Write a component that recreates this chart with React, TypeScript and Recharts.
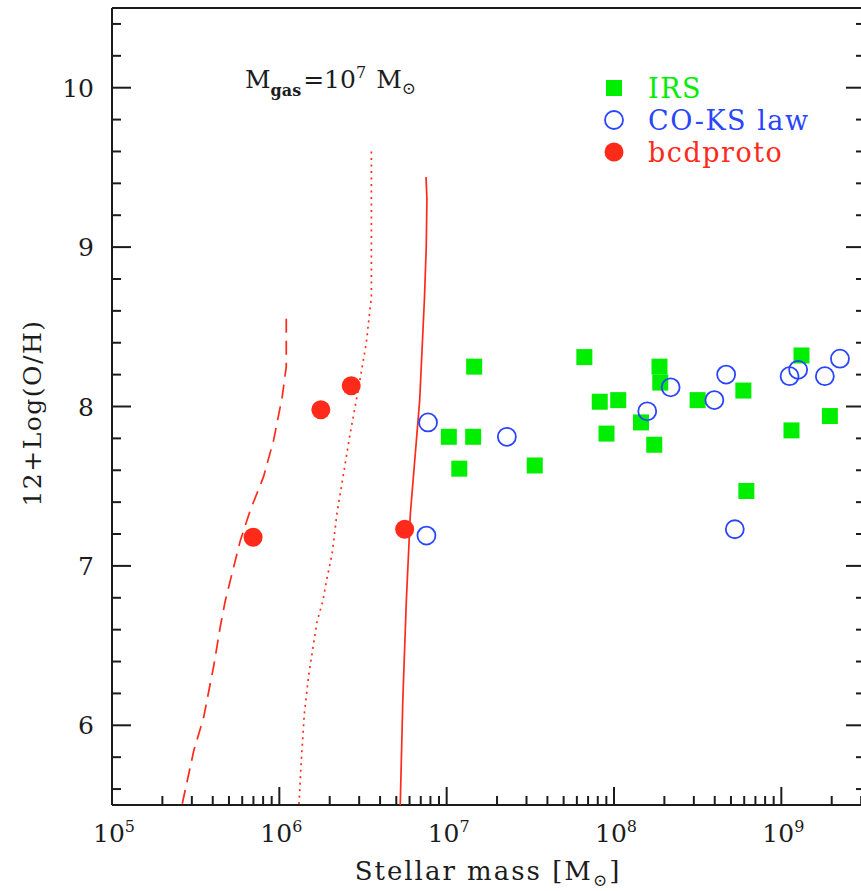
import React from "react"
import { ScatterChart, Scatter, XAxis, YAxis, Legend } from "recharts"

const FONT = "'DejaVu Serif', serif"
const RED = "#ff2a1a"
const GREEN = "#00ee00"
const BLUE = "#2a45ff"
const INK = "#1c1c1c"

// IRS sample
const IRS_MASS = [1.46e7, 1.03e7, 1.44e7, 1.19e7, 3.36e7, 6.65e7, 8.22e7, 1.06e8, 9.02e7, 1.45e8, 1.74e8, 1.87e8, 1.89e8, 3.16e8, 5.93e8, 6.18e8, 1.32e9, 1.15e9, 1.95e9]
const IRS_OH = [8.25, 7.81, 7.81, 7.61, 7.63, 8.31, 8.03, 8.04, 7.83, 7.9, 7.76, 8.25, 8.15, 8.04, 8.1, 7.47, 8.32, 7.85, 7.94]

// CO-KS law sample
const CO_MASS = [7.74e6, 7.57e6, 2.29e7, 1.58e8, 2.18e8, 4.68e8, 3.98e8, 5.27e8, 1.12e9, 1.26e9, 1.82e9, 2.24e9]
const CO_OH = [7.9, 7.19, 7.81, 7.97, 8.12, 8.2, 8.04, 7.23, 8.19, 8.23, 8.19, 8.3]

// bcdproto
const BCD_MASS = [6.97e5, 1.77e6, 2.69e6, 5.61e6]
const BCD_OH = [7.18, 7.98, 8.13, 7.23]

// model tracks
const SOLID_MASS = [7.53e6, 7.62e6, 7.55e6, 7.36e6, 6.9e6, 6.07e6, 5.74e6, 5.47e6, 5.28e6]
const SOLID_OH = [9.44, 9.3, 9.0, 8.67, 8.04, 7.33, 6.78, 6.16, 5.5]
const DOTTED_MASS = [3.55e6, 3.55e6, 3.31e6, 2.98e6, 2.65e6, 2.42e6, 2.21e6, 2.07e6, 1.9e6, 1.82e6, 1.68e6, 1.5e6, 1.41e6, 1.35e6, 1.31e6]
const DOTTED_OH = [9.6, 8.69, 8.4, 8.12, 7.83, 7.58, 7.33, 7.08, 6.89, 6.78, 6.65, 6.32, 6.07, 5.76, 5.5]
const DASHED_MASS = [1.1e6, 1.1e6, 1.04e6, 9.25e5, 8.05e5, 6.71e5, 5.85e5, 5.21e5, 4.75e5, 4.44e5, 4.05e5, 3.53e5, 3.08e5, 2.62e5]
const DASHED_OH = [8.55, 8.25, 8.06, 7.79, 7.56, 7.35, 7.16, 6.95, 6.78, 6.62, 6.37, 6.05, 5.84, 5.5]

const LEGEND_ORDER = ["IRS", "CO-KS law", "bcdproto"]
const X_MAJOR = [1e5, 1e6, 1e7, 1e8, 1e9]
const X_MAX = 10 ** 9.5

const zip = (m: number[], oh: number[]) => m.map((v, i) => ({ m: v, oh: oh[i] }))

const xTicks: number[] = []
X_MAJOR.forEach((d) => {
  xTicks.push(d)
  for (let k = 2; k <= 9; k++) if (d * k < X_MAX) xTicks.push(d * k)
})
const yTicks: number[] = []
for (let i = 28; i <= 52; i++) yTicks.push(i / 5)

const isMajorX = (v: number) => X_MAJOR.includes(v)

const BottomTick = (p: any) => {
  const v = p.payload.value
  const major = isMajorX(v)
  return (
    <g>
      <line x1={p.x} x2={p.x} y1={p.y} y2={p.y - (major ? 18 : 9)} stroke={INK} strokeWidth={2} />
      {major && (
        <text x={p.x + 2} y={p.y + 37} textAnchor="middle" fontFamily={FONT} fontSize={25} fill={INK}>
          10<tspan dy={-10} fontSize={16}>{Math.round(Math.log10(v))}</tspan>
        </text>
      )}
    </g>
  )
}

const TopTick = (p: any) => {
  const major = isMajorX(p.payload.value)
  return <line x1={p.x} x2={p.x} y1={p.y} y2={p.y + (major ? 18 : 9)} stroke={INK} strokeWidth={2} />
}

const LeftTick = (p: any) => {
  const v = p.payload.value
  const major = Number.isInteger(v)
  return (
    <g>
      <line x1={p.x} x2={p.x + (major ? 19 : 9)} y1={p.y} y2={p.y} stroke={INK} strokeWidth={2} />
      {major && (
        <text x={p.x - 18} y={p.y + 9} textAnchor="end" fontFamily={FONT} fontSize={25} fill={INK}>
          {v}
        </text>
      )}
    </g>
  )
}

const RightTick = (p: any) => {
  const major = Number.isInteger(p.payload.value)
  return <line x1={p.x} x2={p.x - (major ? 19 : 9)} y1={p.y} y2={p.y} stroke={INK} strokeWidth={2} />
}

const Square = (p: any) => <rect x={p.cx - 8} y={p.cy - 8} width={16} height={16} fill={GREEN} />
const Ring = (p: any) => <circle cx={p.cx} cy={p.cy} r={9} fill="none" stroke={BLUE} strokeWidth={1.8} />
const Dot = (p: any) => <circle cx={p.cx} cy={p.cy} r={9.5} fill={RED} />
const NoMark = () => <g />

const legendMarker = (name: string, cx: number, cy: number) => {
  if (name === "IRS") return <rect x={cx - 8} y={cy - 8} width={16} height={16} fill={GREEN} />
  if (name === "CO-KS law") return <circle cx={cx} cy={cy} r={9} fill="none" stroke={BLUE} strokeWidth={1.8} />
  return <circle cx={cx} cy={cy} r={9.5} fill={RED} />
}

const renderLegend = (props: any) => {
  const items = (props.payload || [])
    .filter((e: any) => LEGEND_ORDER.includes(e.value))
    .sort((a: any, b: any) => LEGEND_ORDER.indexOf(a.value) - LEGEND_ORDER.indexOf(b.value))
  return (
    <svg width={240} height={110}>
      {items.map((e: any, i: number) => {
        const cy = 18 + i * 32
        return (
          <g key={e.value}>
            {legendMarker(e.value, 14, cy)}
            <text x={48} y={cy + 10} fontFamily={FONT} fontSize={27} letterSpacing={1.5} fill={e.color}>
              {e.value}
            </text>
          </g>
        )
      })}
    </svg>
  )
}

export default function App() {
  return (
    <div style={{ position: "absolute", left: 0, top: 0, width: 861, height: 891, overflow: "hidden", background: "#fff" }}>
      <ScatterChart width={880} height={891} margin={{ top: 0, right: 0, bottom: 0, left: 0 }}>
        <XAxis
          dataKey="m"
          type="number"
          scale="log"
          domain={[1e5, X_MAX]}
          allowDataOverflow
          ticks={xTicks}
          interval={0}
          height={86}
          tickSize={0}
          tickMargin={0}
          tickLine={false}
          tick={<BottomTick />}
          axisLine={{ stroke: INK, strokeWidth: 2 }}
        />
        <XAxis
          xAxisId="t"
          orientation="top"
          type="number"
          scale="log"
          domain={[1e5, X_MAX]}
          allowDataOverflow
          ticks={xTicks}
          interval={0}
          height={8}
          tickSize={0}
          tickMargin={0}
          tickLine={false}
          tick={<TopTick />}
          axisLine={{ stroke: INK, strokeWidth: 2 }}
        />
        <YAxis
          dataKey="oh"
          type="number"
          domain={[5.5, 10.5]}
          allowDataOverflow
          ticks={yTicks}
          interval={0}
          width={112}
          tickSize={0}
          tickMargin={0}
          tickLine={false}
          tick={<LeftTick />}
          axisLine={{ stroke: INK, strokeWidth: 2 }}
        />
        <YAxis
          yAxisId="r"
          orientation="right"
          type="number"
          domain={[5.5, 10.5]}
          allowDataOverflow
          ticks={yTicks}
          interval={0}
          width={15}
          tickSize={0}
          tickMargin={0}
          tickLine={false}
          tick={<RightTick />}
          axisLine={{ stroke: INK, strokeWidth: 2 }}
        />
        <Legend
          layout="vertical"
          align="center"
          verticalAlign="middle"
          wrapperStyle={{ position: "absolute", left: 600, top: 70, width: 240, height: 110 }}
          content={renderLegend}
        />
        <Scatter data={zip(DASHED_MASS, DASHED_OH)} fill={RED} line={{ stroke: RED, strokeWidth: 1.7, strokeDasharray: "14 8" }} shape={NoMark} legendType="none" isAnimationActive={false} />
        <Scatter data={zip(DOTTED_MASS, DOTTED_OH)} fill={RED} line={{ stroke: RED, strokeWidth: 1.7, strokeDasharray: "2 4.5" }} shape={NoMark} legendType="none" isAnimationActive={false} />
        <Scatter data={zip(SOLID_MASS, SOLID_OH)} fill={RED} line={{ stroke: RED, strokeWidth: 1.7 }} shape={NoMark} legendType="none" isAnimationActive={false} />
        <Scatter name="IRS" data={zip(IRS_MASS, IRS_OH)} fill={GREEN} shape={Square} isAnimationActive={false} />
        <Scatter name="CO-KS law" data={zip(CO_MASS, CO_OH)} fill={BLUE} shape={Ring} isAnimationActive={false} />
        <Scatter name="bcdproto" data={zip(BCD_MASS, BCD_OH)} fill={RED} shape={Dot} isAnimationActive={false} />
      </ScatterChart>
      <svg width={861} height={891} style={{ position: "absolute", left: 0, top: 0, pointerEvents: "none" }}>
        <text x={245} y={88} fontFamily={FONT} fontSize={25} fill={INK}>
          M<tspan dy={8} fontSize={16} fontWeight="bold">gas</tspan>
          <tspan dy={-8} dx={2}>=10</tspan>
          <tspan dy={-10} fontSize={16}>7</tspan>
          <tspan dy={10} dx={10}>M</tspan>
          <tspan dy={6} fontSize={17}>⊙</tspan>
        </text>
        <text x={488} y={880} textAnchor="middle" fontFamily={FONT} fontSize={26} letterSpacing={2} fill={INK}>
          Stellar mass [M<tspan dy={6} fontSize={17}>⊙</tspan>
          <tspan dy={-6}>]</tspan>
        </text>
        <text transform="translate(41,413) rotate(-90)" textAnchor="middle" fontFamily={FONT} fontSize={25} letterSpacing={1.5} fill={INK}>
          12+Log(O/H)
        </text>
      </svg>
    </div>
  )
}
